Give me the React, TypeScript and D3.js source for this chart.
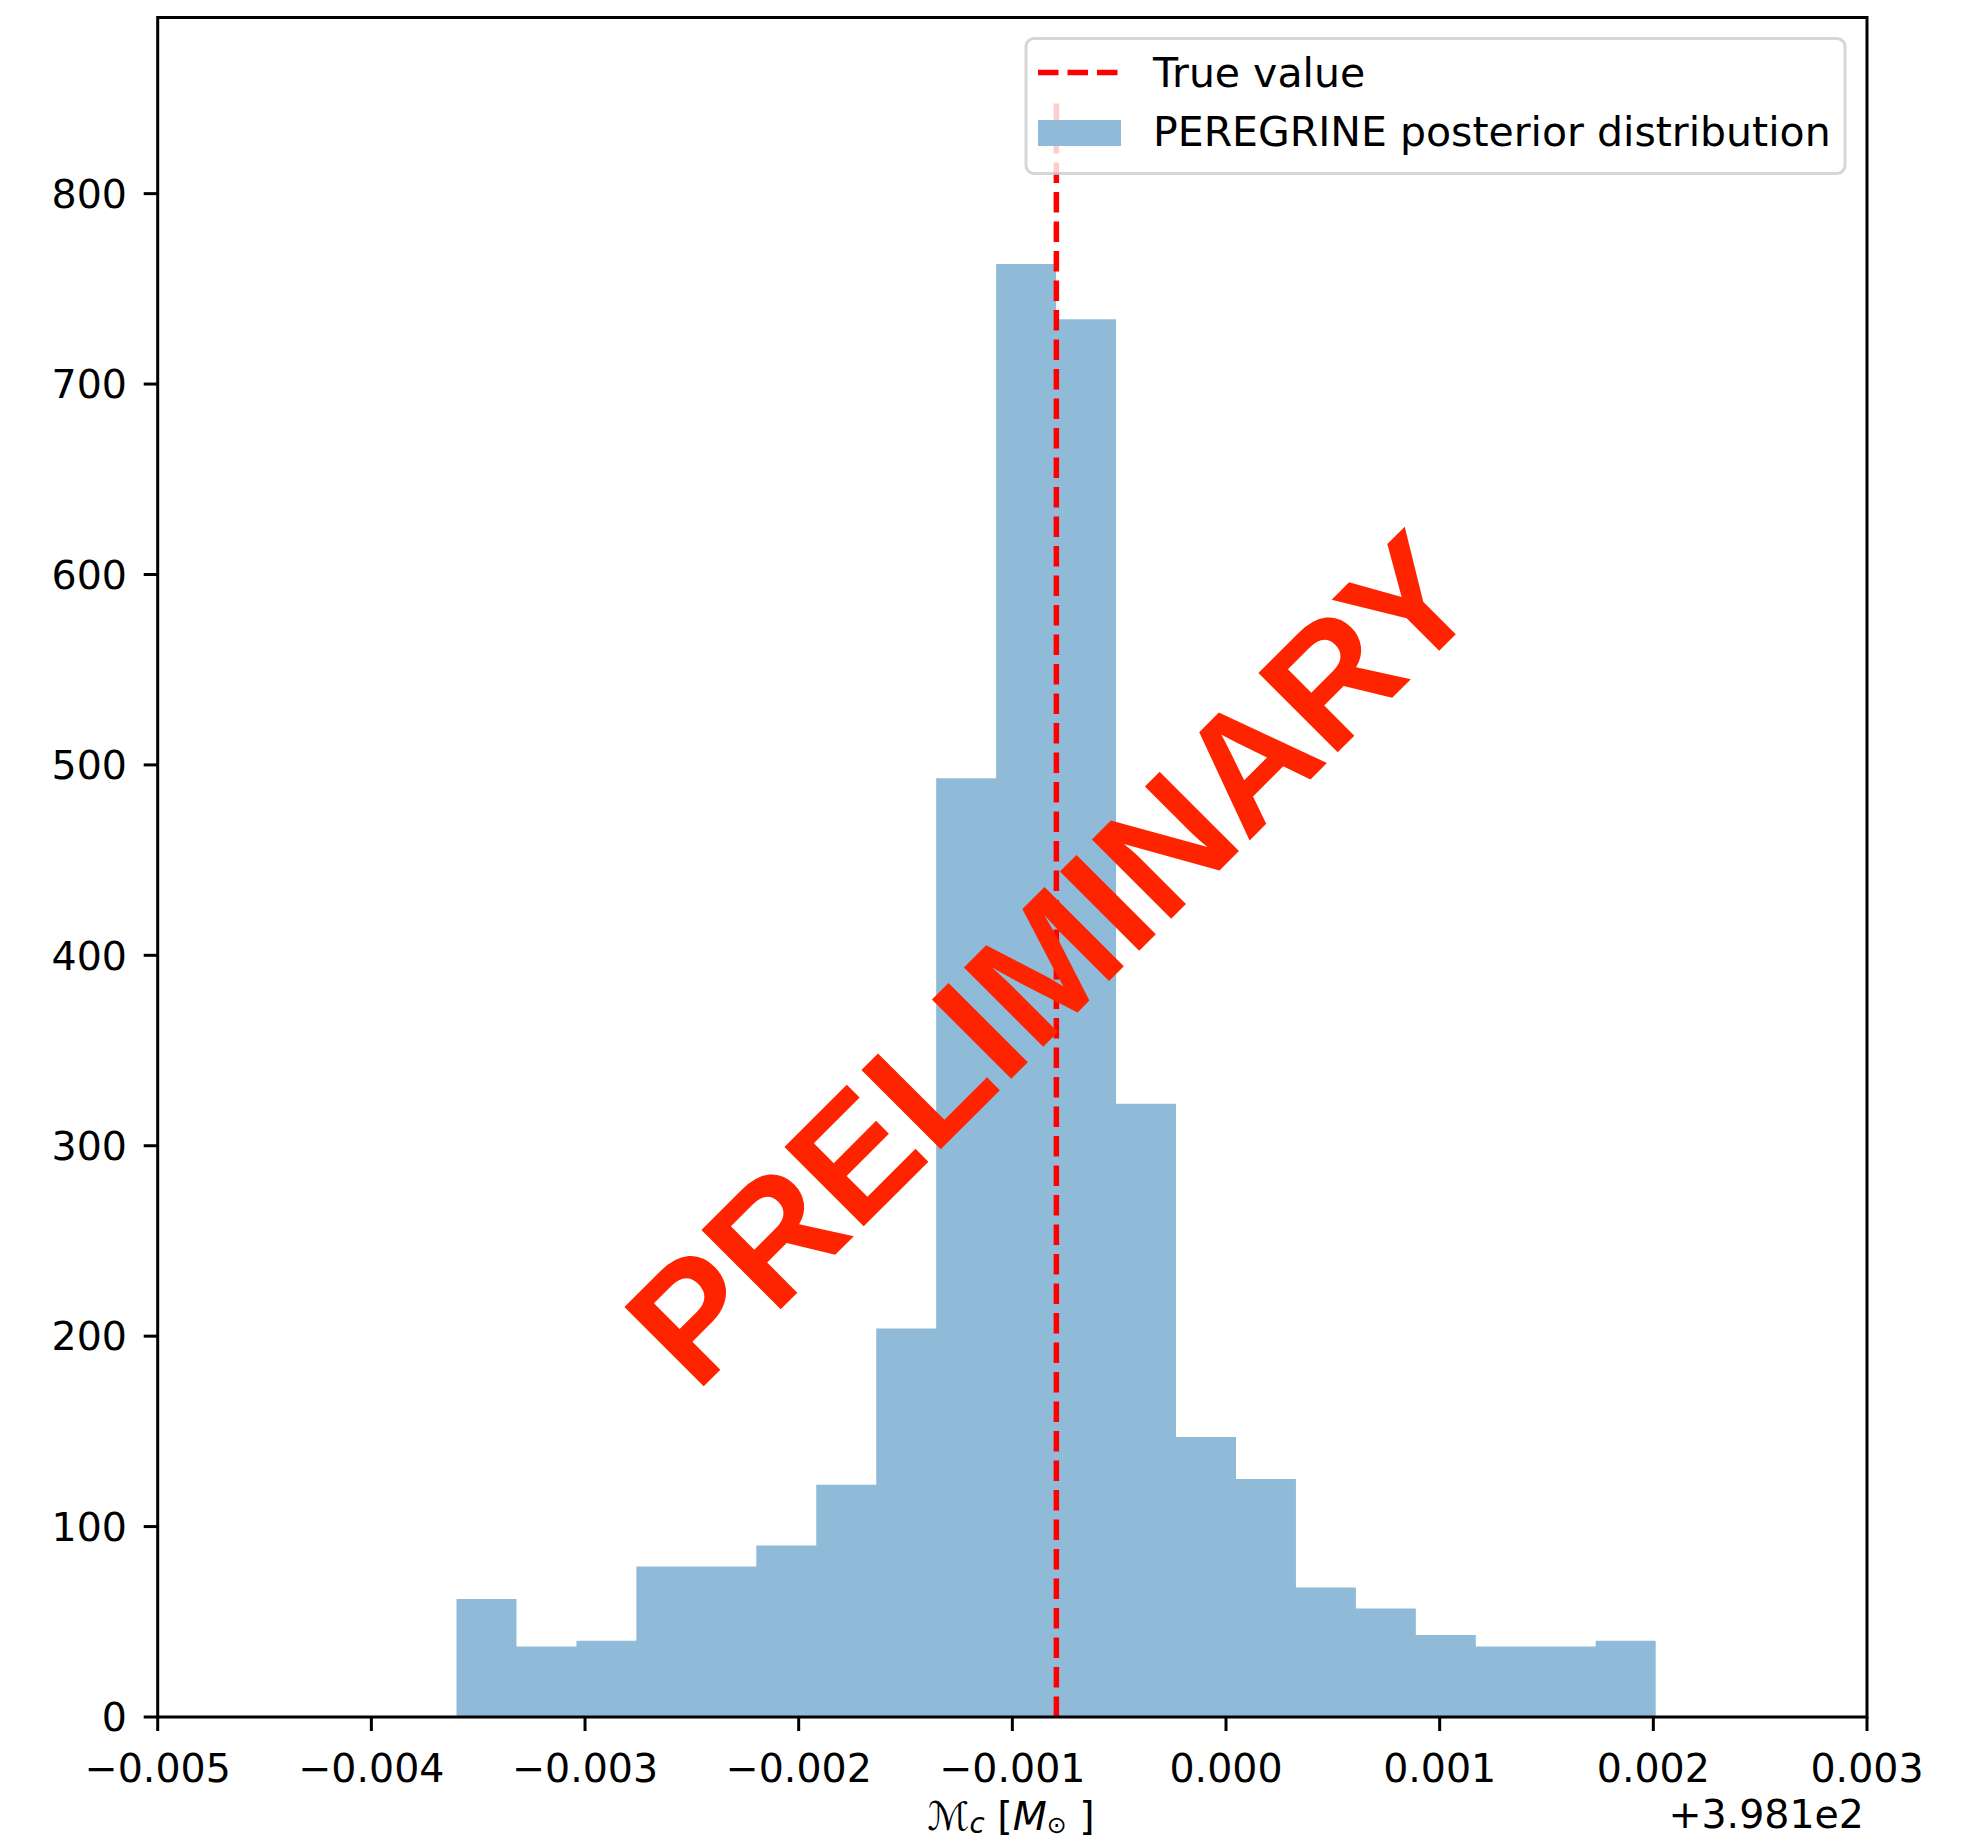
import React from "react";
import * as d3 from "d3";

// Histogram of chirp-mass posterior samples (offset from 398.1 Msun)
const binLo = -0.0036015;
const binHi = 0.002011;
const counts = [62, 37, 40, 79, 79, 90, 122, 204, 493, 763, 734, 322, 147, 125, 68, 57, 43, 37, 37, 40];
const trueValue = -0.000794;
const trueLineTop = 850;
const xTicks = [-0.005, -0.004, -0.003, -0.002, -0.001, 0.0, 0.001, 0.002, 0.003];
const yTicks = [0, 100, 200, 300, 400, 500, 600, 700, 800];
const xDomain: [number, number] = [-0.005, 0.003];
const yDomain: [number, number] = [0, 892.5];
const offsetLabel = "+3.981e2";
const legendLabels = ["True value", "PEREGRINE posterior distribution"];
const watermark = "PRELIMINARY";

const W = 1962;
const H = 1843;
const left = 157.7;
const right = 1867;
const top = 17.5;
const bottom = 1717;

const font = "'DejaVu Sans', sans-serif";
const barColor = "#8fbbd9";

export default function App() {
  const x = d3.scaleLinear().domain(xDomain).range([left, right]);
  const y = d3.scaleLinear().domain(yDomain).range([bottom, top]);
  const edges = d3.range(counts.length + 1).map((i) => binLo + ((binHi - binLo) * i) / counts.length);
  const fmtX = (v: number) => {
    const s = Math.abs(v).toFixed(3);
    return v < -1e-12 ? "\u2212" + s : s;
  };

  // bar outline as a single step path so adjacent bins merge cleanly
  const area = d3
    .area<number>()
    .curve(d3.curveStepAfter)
    .x((_, i) => x(edges[i]))
    .y0(y(0))
    .y1((d) => y(d));
  const stepData = [...counts, counts[counts.length - 1]];

  const fs = 39.5;
  const lfs = 41;
  const wmX = 696;
  const wmY = 1394;

  return (
    <svg
      width={W}
      height={H}
      style={{ position: "absolute", left: 0, top: 0, background: "#fff" }}
      xmlns="http://www.w3.org/2000/svg"
    >
      <rect x={0} y={0} width={W} height={H} fill="#fff" />
      <path d={area(stepData) || ""} fill={barColor} />
      <line
        x1={x(trueValue)}
        x2={x(trueValue)}
        y1={y(0)}
        y2={y(trueLineTop)}
        stroke="#ff0000"
        strokeWidth={5.5}
        strokeDasharray="20.5 9"
      />

      {/* spines */}
      <rect x={left} y={top} width={right - left} height={bottom - top} fill="none" stroke="#000" strokeWidth={3} />

      {/* x ticks */}
      {xTicks.map((t) => (
        <g key={"x" + t}>
          <line x1={x(t)} x2={x(t)} y1={bottom} y2={bottom + 14} stroke="#000" strokeWidth={3} />
          <text x={x(t)} y={1781.5} textAnchor="middle" fontFamily={font} fontSize={fs} fill="#000">
            {fmtX(t)}
          </text>
        </g>
      ))}
      {/* y ticks */}
      {yTicks.map((t) => (
        <g key={"y" + t}>
          <line x1={left - 14} x2={left} y1={y(t)} y2={y(t)} stroke="#000" strokeWidth={3} />
          <text x={127} y={y(t) + 14.3} textAnchor="end" fontFamily={font} fontSize={fs} fill="#000">
            {t}
          </text>
        </g>
      ))}

      <text x={1864} y={1828} textAnchor="end" fontFamily={font} fontSize={fs} fill="#000">
        {offsetLabel}
      </text>

      {/* x axis label: chirp mass in solar masses */}
      <text x={1011} y={1830} textAnchor="middle" fontFamily={font} fontSize={fs} fill="#000">
        <tspan fontFamily="'DejaVu Serif', 'DejaVu Sans', serif" fontStyle="italic">{"\u2133"}</tspan>
        <tspan fontStyle="italic" fontSize={fs * 0.7} dy={3}>c</tspan>
        <tspan dy={-3}>{" ["}</tspan>
        <tspan fontStyle="italic">M</tspan>
        <tspan fontSize={fs * 0.6} dy={3}>{"\u2299"}</tspan>
        <tspan dy={-3}>{" ]"}</tspan>
      </text>

      {/* watermark */}
      <text
        x={wmX}
        y={wmY}
        transform={`rotate(-45 ${wmX} ${wmY})`}
        textAnchor="start"
        fontFamily="'Liberation Sans', Arial, sans-serif"
        fontWeight="bold"
        fontSize={163}
        fill="#ff2400"
      >
        {watermark}
      </text>

      {/* legend */}
      <g>
        <rect
          x={1026}
          y={38.5}
          width={819}
          height={135}
          rx={8}
          ry={8}
          fill="#fff"
          fillOpacity={0.8}
          stroke="#cccccc"
          strokeOpacity={0.8}
          strokeWidth={3}
        />
        <line x1={1038} x2={1121} y1={72.5} y2={72.5} stroke="#ff0000" strokeWidth={5.5} strokeDasharray="20.5 9" />
        <text x={1153} y={87.3} fontFamily={font} fontSize={lfs} fill="#000">
          {legendLabels[0]}
        </text>
        <rect x={1038} y={120} width={83} height={26} fill={barColor} />
        <text x={1153} y={145.7} fontFamily={font} fontSize={lfs} fill="#000">
          {legendLabels[1]}
        </text>
      </g>
    </svg>
  );
}
